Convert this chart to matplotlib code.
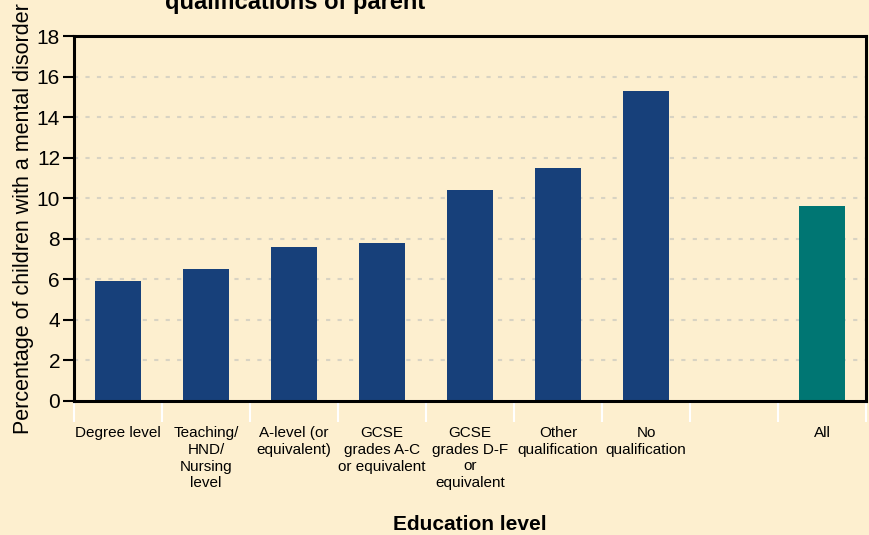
import matplotlib
matplotlib.use("Agg")
import matplotlib.pyplot as plt
import numpy as np

plt.rcParams['font.family'] = ['Liberation Sans', 'DejaVu Sans']

categories = ["Degree level", "Teaching/\nHND/\nNursing\nlevel", "A-level (or\nequivalent)",
              "GCSE\ngrades A-C\nor equivalent", "GCSE\ngrades D-F\nor\nequivalent",
              "Other\nqualification", "No\nqualification", "", "All"]
values = [5.9, 6.5, 7.6, 7.8, 10.4, 11.5, 15.3, None, 9.6]
bar_colors = ["#17407A"] * 7 + [None, "#007673"]
yticks = [0, 2, 4, 6, 8, 10, 12, 14, 16, 18]

bg = "#FDEFCF"
fig = plt.figure(figsize=(8.69, 5.35), dpi=100, facecolor=bg)
ax = fig.add_axes([74/869, (535-401)/535, (866-74)/869, (401-36)/535])
ax.set_facecolor(bg)

x = np.arange(len(categories))
for xi, v, c in zip(x, values, bar_colors):
    if v is not None:
        ax.bar(xi, v, width=0.53, color=c, zorder=3)

ax.set_xlim(-0.5, len(categories) - 0.5)
ax.set_ylim(0, 18)
ax.set_yticks(yticks)
ax.set_yticklabels([str(t) for t in yticks], fontsize=15)
for t in yticks[1:-1]:
    ax.axhline(t, color="#D8D3C3", linestyle=(0, (2, 3.5)), linewidth=1.5, zorder=1)

ax.set_xticks(x)
ax.set_xticklabels(categories, fontsize=11, linespacing=1.25, va='top')
ax.tick_params(axis='x', which='major', length=0, pad=18)
ax.set_xticks(np.arange(-0.5, len(categories)), minor=True)
ax.tick_params(axis='x', which='minor', length=15, width=1.5, color='white')
ax.tick_params(axis='y', length=8, width=1.5, color='black', pad=2)

for s in ax.spines.values():
    s.set_linewidth(2.2)
    s.set_color('black')
    s.set_zorder(4)

ax.set_ylabel("Percentage of children with a mental disorder", fontsize=15.5, labelpad=2)
ax.set_xlabel("Education level", fontsize=15, fontweight='bold', labelpad=18)

fig.text(295/869, 1 - 9/535, "qualifications of parent", fontsize=17, fontweight='bold',
         ha='center', va='baseline')

fig.savefig("out.png", dpi=100, facecolor=bg)
